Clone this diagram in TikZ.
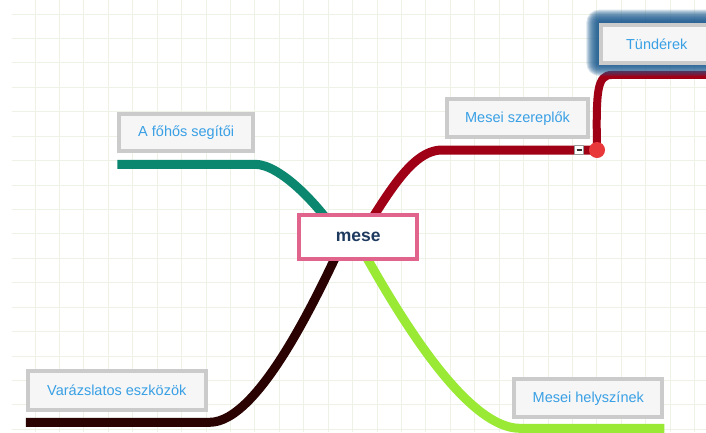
\documentclass[tikz,border=0pt]{standalone}
\usepackage{fontspec}
\setmainfont{Liberation Sans}
\usetikzlibrary{calc}
\pgfdeclarelayer{gridl}
\pgfdeclarelayer{edges}
\pgfdeclarelayer{glow}
\pgfsetlayers{gridl,edges,glow,main}
\definecolor{gridc}{HTML}{EEF2E6}
\definecolor{boxgray}{HTML}{CBCBCB}
\definecolor{boxfill}{HTML}{F6F6F6}
\definecolor{labelblue}{HTML}{39A0E5}
\definecolor{mesepink}{HTML}{E0648C}
\definecolor{mesetext}{HTML}{1E3A5F}
\definecolor{tealc}{HTML}{0A876E}
\definecolor{redc}{HTML}{A00016}
\definecolor{darkc}{HTML}{2A0202}
\definecolor{greenc}{HTML}{9AEA35}
\definecolor{dotred}{HTML}{E8383A}
\definecolor{glowblue}{HTML}{1B5A90}
\definecolor{minusgray}{HTML}{999999}
\definecolor{minusdark}{HTML}{333333}
\tikzset{
  branchbox/.style={draw=boxgray, fill=boxfill, line width=4pt, outer sep=2pt, inner sep=0pt,
    text=labelblue, font=\fontsize{14.5}{16}\selectfont},
  centerbox/.style={draw=mesepink, fill=white, line width=4pt, outer sep=2pt, inner sep=0pt,
    text=mesetext, font=\fontsize{17.5}{20}\selectfont\bfseries},
  branchline/.style={line width=9pt, line cap=butt},
  gridline/.style={draw=gridc, line width=1pt}
}
\begin{document}
\begin{tikzpicture}[x=1pt,y=-1pt]
\useasboundingbox (0,0) rectangle (706,432);
\begin{pgfonlayer}{gridl}
  \fill[white] (0,0) rectangle (706,432);
  \foreach \k in {0,...,27} \draw[gridline] ({35+24.43*\k},0) -- ({35+24.43*\k},432);
  \foreach \k in {0,...,17} \draw[gridline] (12,{14+24.43*\k}) -- (706,{14+24.43*\k});
\end{pgfonlayer}

% nodes
\node[centerbox, minimum width=118pt, minimum height=43.4pt] (mese) at (358.3,237) {mese};
\node[branchbox, minimum width=133.7pt, minimum height=37pt] (fohos) at (186.2,132.8) {A főhős segítői};
\node[branchbox, minimum width=141pt, minimum height=38pt] (szer) at (517.5,118.3) {Mesei szereplők};
\node[branchbox, minimum width=177.7pt, minimum height=38.4pt] (varazs) at (116.8,390.5) {Varázslatos eszközök};
\node[branchbox, minimum width=148pt, minimum height=37.7pt] (hely) at (588.3,398.2) {Mesei helyszínek};
\node[branchbox, minimum width=110.7pt, minimum height=38.3pt] (tund) at (656.7,43.8) {Tündérek};
\node[circle, fill=dotred, minimum size=16pt, inner sep=0pt] (dot) at ($(szer.south east)+(7,10.7)$) {};
\node[draw=minusgray, fill=white, line width=0.6pt, minimum size=9pt, inner sep=0pt,
  path picture={\draw[line width=1.8pt, minusdark] ($(path picture bounding box.center)+(-2.5,0)$) -- ++(5,0);}]
  (minus) at ($(dot.center)+(-18,0)$) {};

\begin{pgfonlayer}{glow}
  \foreach \i in {1,...,13}
    \fill[glowblue, opacity=0.17, rounded corners=\i pt]
      ($(tund.south west)+(-\i,\i-2)$) rectangle ($(tund.north east)+(\i,-\i)$);
\end{pgfonlayer}

\begin{pgfonlayer}{edges}
  \draw[branchline, tealc] ($(mese.center)+(-13.3,8)$) .. controls +(-25,-40) and +(25,0) ..
    ($(fohos.south east)+(0,11)$) -- ($(fohos.south west)+(0,11)$);
  \draw[branchline, redc] ($(mese.center)+(-3.3,8)$) .. controls +(30,-45) and +(-32,0) ..
    ($(szer.south west)+(-3,10.7)$) -- (dot.center);
  \draw[branchline, darkc] ($(mese.center)+(-13.3,0)$) .. controls +(-25,53) and +(50,0) ..
    ($(varazs.south east)+(2,10.6)$) -- ($(varazs.south west)+(0,10.6)$);
  \draw[branchline, greenc] ($(mese.center)+(-3.3,0)$) .. controls +(30,53) and +(-60,0) ..
    ($(hely.south west)+(8,9.3)$) -- ($(hely.south east)+(0,9.3)$);
  \draw[line width=8pt, redc] (dot.center) .. controls +(-1,-60) and +(-15,0) ..
    ($(tund.south west)+(12.7,10)$) -- ($(tund.south east)+(0,10)$);
\end{pgfonlayer}
\end{tikzpicture}
\end{document}
